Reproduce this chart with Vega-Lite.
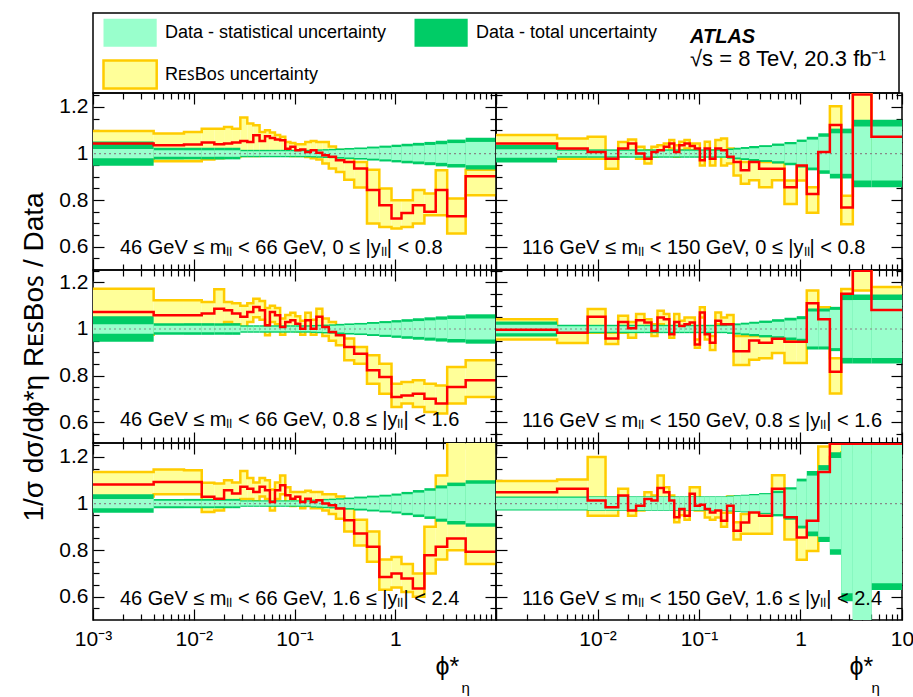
{
"$schema": "https://vega.github.io/schema/vega-lite/v6.json",
"background": "white",
"padding": {"left": 20, "top": 12, "right": 0, "bottom": 0},
"config": {
  "view": {"stroke": "black", "strokeWidth": 1.5},
  "axis": {"domain": false, "grid": false, "ticks": true, "tickColor": "black", "tickWidth": 1.2, "labelFont": "Liberation Sans", "labelFontSize": 21, "labelColor": "black", "titleFont": "Liberation Sans", "titleColor": "black", "titleFontWeight": "normal", "labelOverlap": false, "labelFlush": false, "zindex": 1}
},
"datasets": {
"labels": [
 {"p": "p1", "t": "46 GeV ≤ mₗₗ < 66 GeV, 0 ≤ |yₗₗ| < 0.8"},
 {"p": "p2", "t": "116 GeV ≤ mₗₗ < 150 GeV, 0 ≤ |yₗₗ| < 0.8"},
 {"p": "p3", "t": "46 GeV ≤ mₗₗ < 66 GeV, 0.8 ≤ |yₗₗ| < 1.6"},
 {"p": "p4", "t": "116 GeV ≤ mₗₗ < 150 GeV, 0.8 ≤ |yₗₗ| < 1.6"},
 {"p": "p5", "t": "46 GeV ≤ mₗₗ < 66 GeV, 1.6 ≤ |yₗₗ| < 2.4"},
 {"p": "p6", "t": "116 GeV ≤ mₗₗ < 150 GeV, 1.6 ≤ |yₗₗ| < 2.4"}
],
"p1": [
{"i":1,"lo":0.001,"hi":0.004,"r":1.043,"rl":0.99,"rh":1.097,"sl":0.98,"sh":1.02,"tl":0.948,"th":1.052},
{"i":2,"lo":0.004,"hi":0.008,"r":1.036,"rl":0.967,"rh":1.086,"sl":0.986,"sh":1.014,"tl":0.975,"th":1.025},
{"i":3,"lo":0.008,"hi":0.012,"r":1.039,"rl":0.967,"rh":1.093,"sl":0.986,"sh":1.014,"tl":0.975,"th":1.025},
{"i":4,"lo":0.012,"hi":0.016,"r":1.047,"rl":0.975,"rh":1.107,"sl":0.986,"sh":1.014,"tl":0.975,"th":1.025},
{"i":5,"lo":0.016,"hi":0.02,"r":1.04,"rl":0.98,"rh":1.107,"sl":0.986,"sh":1.014,"tl":0.975,"th":1.025},
{"i":6,"lo":0.02,"hi":0.024,"r":1.043,"rl":0.985,"rh":1.114,"sl":0.986,"sh":1.014,"tl":0.975,"th":1.025},
{"i":7,"lo":0.024,"hi":0.029,"r":1.047,"rl":0.985,"rh":1.107,"sl":0.986,"sh":1.014,"tl":0.975,"th":1.025},
{"i":8,"lo":0.029,"hi":0.034,"r":1.054,"rl":0.99,"rh":1.155,"sl":0.99,"sh":1.01,"tl":0.984,"th":1.016},
{"i":9,"lo":0.034,"hi":0.039,"r":1.05,"rl":0.99,"rh":1.129,"sl":0.99,"sh":1.01,"tl":0.984,"th":1.016},
{"i":10,"lo":0.039,"hi":0.045,"r":1.079,"rl":0.99,"rh":1.122,"sl":0.99,"sh":1.01,"tl":0.984,"th":1.016},
{"i":11,"lo":0.045,"hi":0.051,"r":1.054,"rl":0.995,"rh":1.093,"sl":0.99,"sh":1.01,"tl":0.984,"th":1.016},
{"i":12,"lo":0.051,"hi":0.057,"r":1.074,"rl":0.995,"rh":1.1,"sl":0.99,"sh":1.01,"tl":0.984,"th":1.016},
{"i":13,"lo":0.057,"hi":0.064,"r":1.067,"rl":0.995,"rh":1.09,"sl":0.99,"sh":1.01,"tl":0.984,"th":1.016},
{"i":14,"lo":0.064,"hi":0.072,"r":1.06,"rl":0.995,"rh":1.08,"sl":0.99,"sh":1.01,"tl":0.984,"th":1.016},
{"i":15,"lo":0.072,"hi":0.081,"r":1.057,"rl":0.995,"rh":1.072,"sl":0.99,"sh":1.01,"tl":0.984,"th":1.016},
{"i":16,"lo":0.081,"hi":0.091,"r":1.021,"rl":0.995,"rh":1.05,"sl":0.99,"sh":1.01,"tl":0.984,"th":1.016},
{"i":17,"lo":0.091,"hi":0.102,"r":1.029,"rl":0.99,"rh":1.045,"sl":0.99,"sh":1.01,"tl":0.984,"th":1.016},
{"i":18,"lo":0.102,"hi":0.114,"r":1.014,"rl":0.99,"rh":1.04,"sl":0.99,"sh":1.01,"tl":0.984,"th":1.016},
{"i":19,"lo":0.114,"hi":0.128,"r":1.017,"rl":0.99,"rh":1.04,"sl":0.99,"sh":1.01,"tl":0.984,"th":1.016},
{"i":20,"lo":0.128,"hi":0.145,"r":1.007,"rl":0.985,"rh":1.05,"sl":0.99,"sh":1.01,"tl":0.984,"th":1.016},
{"i":21,"lo":0.145,"hi":0.165,"r":1.014,"rl":0.98,"rh":1.054,"sl":0.989,"sh":1.011,"tl":0.983,"th":1.017},
{"i":22,"lo":0.165,"hi":0.189,"r":1.003,"rl":0.975,"rh":1.05,"sl":0.988,"sh":1.012,"tl":0.982,"th":1.018},
{"i":23,"lo":0.189,"hi":0.219,"r":0.993,"rl":0.957,"rh":1.05,"sl":0.987,"sh":1.013,"tl":0.981,"th":1.019},
{"i":24,"lo":0.219,"hi":0.258,"r":0.986,"rl":0.936,"rh":1.03,"sl":0.986,"sh":1.014,"tl":0.98,"th":1.02},
{"i":25,"lo":0.258,"hi":0.312,"r":0.971,"rl":0.921,"rh":1.015,"sl":0.985,"sh":1.015,"tl":0.978,"th":1.022},
{"i":26,"lo":0.312,"hi":0.391,"r":0.964,"rl":0.888,"rh":1.007,"sl":0.983,"sh":1.017,"tl":0.976,"th":1.024},
{"i":27,"lo":0.391,"hi":0.524,"r":0.936,"rl":0.854,"rh":0.964,"sl":0.981,"sh":1.019,"tl":0.974,"th":1.026},
{"i":28,"lo":0.524,"hi":0.695,"r":0.843,"rl":0.7,"rh":0.93,"sl":0.978,"sh":1.022,"tl":0.97,"th":1.03},
{"i":29,"lo":0.695,"hi":0.918,"r":0.778,"rl":0.685,"rh":0.85,"sl":0.975,"sh":1.025,"tl":0.966,"th":1.034},
{"i":30,"lo":0.918,"hi":1.153,"r":0.721,"rl":0.678,"rh":0.8,"sl":0.972,"sh":1.028,"tl":0.962,"th":1.038},
{"i":31,"lo":1.153,"hi":1.496,"r":0.745,"rl":0.685,"rh":0.8,"sl":0.969,"sh":1.031,"tl":0.958,"th":1.042},
{"i":32,"lo":1.496,"hi":1.947,"r":0.778,"rl":0.7,"rh":0.843,"sl":0.966,"sh":1.034,"tl":0.954,"th":1.046},
{"i":33,"lo":1.947,"hi":2.522,"r":0.75,"rl":0.735,"rh":0.828,"sl":0.963,"sh":1.037,"tl":0.95,"th":1.05},
{"i":34,"lo":2.522,"hi":3.277,"r":0.843,"rl":0.735,"rh":0.928,"sl":0.96,"sh":1.04,"tl":0.945,"th":1.055},
{"i":35,"lo":3.277,"hi":5,"r":0.731,"rl":0.657,"rh":0.807,"sl":0.955,"sh":1.045,"tl":0.94,"th":1.06},
{"i":36,"lo":5,"hi":10,"r":0.903,"rl":0.821,"rh":0.93,"sl":0.95,"sh":1.05,"tl":0.932,"th":1.068}
],
"p2": [
{"i":1,"lo":0.001,"hi":0.004,"r":1.043,"rl":1.0,"rh":1.08,"sl":0.982,"sh":1.018,"tl":0.962,"th":1.038},
{"i":2,"lo":0.004,"hi":0.008,"r":1.022,"rl":0.978,"rh":1.065,"sl":0.988,"sh":1.012,"tl":0.982,"th":1.018},
{"i":3,"lo":0.008,"hi":0.012,"r":1.007,"rl":0.978,"rh":1.072,"sl":0.988,"sh":1.012,"tl":0.982,"th":1.018},
{"i":4,"lo":0.012,"hi":0.016,"r":0.978,"rl":0.935,"rh":1.0,"sl":0.988,"sh":1.012,"tl":0.982,"th":1.018},
{"i":5,"lo":0.016,"hi":0.02,"r":1.022,"rl":0.99,"rh":1.05,"sl":0.988,"sh":1.012,"tl":0.982,"th":1.018},
{"i":6,"lo":0.02,"hi":0.024,"r":1.043,"rl":1.0,"rh":1.06,"sl":0.988,"sh":1.012,"tl":0.982,"th":1.018},
{"i":7,"lo":0.024,"hi":0.029,"r":1.0,"rl":0.978,"rh":1.029,"sl":0.988,"sh":1.012,"tl":0.982,"th":1.018},
{"i":8,"lo":0.029,"hi":0.034,"r":0.978,"rl":0.957,"rh":1.014,"sl":0.988,"sh":1.012,"tl":0.982,"th":1.018},
{"i":9,"lo":0.034,"hi":0.039,"r":1.007,"rl":0.986,"rh":1.029,"sl":0.988,"sh":1.012,"tl":0.982,"th":1.018},
{"i":10,"lo":0.039,"hi":0.045,"r":1.014,"rl":0.993,"rh":1.036,"sl":0.988,"sh":1.012,"tl":0.982,"th":1.018},
{"i":11,"lo":0.045,"hi":0.051,"r":1.029,"rl":1.007,"rh":1.043,"sl":0.988,"sh":1.012,"tl":0.982,"th":1.018},
{"i":12,"lo":0.051,"hi":0.057,"r":1.043,"rl":1.022,"rh":1.058,"sl":0.988,"sh":1.012,"tl":0.982,"th":1.018},
{"i":13,"lo":0.057,"hi":0.064,"r":1.007,"rl":0.986,"rh":1.036,"sl":0.988,"sh":1.012,"tl":0.982,"th":1.018},
{"i":14,"lo":0.064,"hi":0.072,"r":1.036,"rl":1.014,"rh":1.051,"sl":0.988,"sh":1.012,"tl":0.982,"th":1.018},
{"i":15,"lo":0.072,"hi":0.081,"r":1.043,"rl":1.022,"rh":1.058,"sl":0.988,"sh":1.012,"tl":0.982,"th":1.018},
{"i":16,"lo":0.081,"hi":0.091,"r":1.032,"rl":1.014,"rh":1.043,"sl":0.988,"sh":1.012,"tl":0.982,"th":1.018},
{"i":17,"lo":0.091,"hi":0.102,"r":1.022,"rl":1.007,"rh":1.043,"sl":0.988,"sh":1.012,"tl":0.982,"th":1.018},
{"i":18,"lo":0.102,"hi":0.114,"r":0.971,"rl":0.949,"rh":1.0,"sl":0.988,"sh":1.012,"tl":0.982,"th":1.018},
{"i":19,"lo":0.114,"hi":0.128,"r":1.022,"rl":0.993,"rh":1.051,"sl":0.988,"sh":1.012,"tl":0.982,"th":1.018},
{"i":20,"lo":0.128,"hi":0.145,"r":0.978,"rl":0.949,"rh":1.014,"sl":0.988,"sh":1.012,"tl":0.982,"th":1.018},
{"i":21,"lo":0.145,"hi":0.165,"r":1.022,"rl":0.993,"rh":1.058,"sl":0.988,"sh":1.012,"tl":0.982,"th":1.018},
{"i":22,"lo":0.165,"hi":0.189,"r":1.014,"rl":0.949,"rh":1.065,"sl":0.988,"sh":1.012,"tl":0.982,"th":1.018},
{"i":23,"lo":0.189,"hi":0.219,"r":0.986,"rl":0.957,"rh":1.022,"sl":0.985,"sh":1.015,"tl":0.978,"th":1.022},
{"i":24,"lo":0.219,"hi":0.258,"r":0.964,"rl":0.906,"rh":0.986,"sl":0.983,"sh":1.017,"tl":0.975,"th":1.025},
{"i":25,"lo":0.258,"hi":0.312,"r":0.928,"rl":0.87,"rh":0.964,"sl":0.98,"sh":1.02,"tl":0.972,"th":1.028},
{"i":26,"lo":0.312,"hi":0.391,"r":0.964,"rl":0.885,"rh":0.971,"sl":0.977,"sh":1.023,"tl":0.968,"th":1.032},
{"i":27,"lo":0.391,"hi":0.524,"r":0.935,"rl":0.855,"rh":0.964,"sl":0.972,"sh":1.028,"tl":0.964,"th":1.036},
{"i":28,"lo":0.524,"hi":0.695,"r":0.935,"rl":0.885,"rh":0.964,"sl":0.967,"sh":1.033,"tl":0.957,"th":1.043},
{"i":29,"lo":0.695,"hi":0.918,"r":0.855,"rl":0.783,"rh":0.884,"sl":0.96,"sh":1.04,"tl":0.95,"th":1.05},
{"i":30,"lo":0.918,"hi":1.153,"r":0.949,"rl":0.884,"rh":0.971,"sl":0.95,"sh":1.05,"tl":0.94,"th":1.06},
{"i":31,"lo":1.153,"hi":1.496,"r":0.826,"rl":0.746,"rh":0.855,"sl":0.94,"sh":1.06,"tl":0.928,"th":1.072},
{"i":32,"lo":1.496,"hi":1.947,"r":1.007,"rl":0.978,"rh":1.022,"sl":0.928,"sh":1.072,"tl":0.913,"th":1.087},
{"i":33,"lo":1.947,"hi":2.522,"r":1.123,"rl":1.007,"rh":1.203,"sl":0.913,"sh":1.087,"tl":0.893,"th":1.107},
{"i":34,"lo":2.522,"hi":3.277,"r":0.768,"rl":0.696,"rh":0.819,"sl":0.913,"sh":1.087,"tl":0.893,"th":1.107},
{"i":35,"lo":3.277,"hi":5,"r":1.254,"rl":1.12,"rh":1.4,"sl":0.884,"sh":1.116,"tl":0.855,"th":1.145},
{"i":36,"lo":5,"hi":10,"r":1.072,"rl":1.01,"rh":1.13,"sl":0.884,"sh":1.116,"tl":0.855,"th":1.145}
],
"p3": [
{"i":1,"lo":0.001,"hi":0.004,"r":1.073,"rl":0.975,"rh":1.173,"sl":0.98,"sh":1.02,"tl":0.945,"th":1.055},
{"i":2,"lo":0.004,"hi":0.008,"r":1.059,"rl":0.995,"rh":1.123,"sl":0.986,"sh":1.014,"tl":0.975,"th":1.025},
{"i":3,"lo":0.008,"hi":0.012,"r":1.059,"rl":0.995,"rh":1.123,"sl":0.986,"sh":1.014,"tl":0.975,"th":1.025},
{"i":4,"lo":0.012,"hi":0.016,"r":1.066,"rl":1.0,"rh":1.116,"sl":0.986,"sh":1.014,"tl":0.975,"th":1.025},
{"i":5,"lo":0.016,"hi":0.02,"r":1.087,"rl":1.0,"rh":1.17,"sl":0.986,"sh":1.014,"tl":0.975,"th":1.025},
{"i":6,"lo":0.02,"hi":0.024,"r":1.08,"rl":1.03,"rh":1.116,"sl":0.986,"sh":1.014,"tl":0.975,"th":1.025},
{"i":7,"lo":0.024,"hi":0.029,"r":1.066,"rl":1.02,"rh":1.11,"sl":0.986,"sh":1.014,"tl":0.975,"th":1.025},
{"i":8,"lo":0.029,"hi":0.034,"r":1.052,"rl":1.0,"rh":1.1,"sl":0.99,"sh":1.01,"tl":0.984,"th":1.016},
{"i":9,"lo":0.034,"hi":0.039,"r":1.073,"rl":1.03,"rh":1.11,"sl":0.99,"sh":1.01,"tl":0.984,"th":1.016},
{"i":10,"lo":0.039,"hi":0.045,"r":1.094,"rl":1.05,"rh":1.13,"sl":0.99,"sh":1.01,"tl":0.984,"th":1.016},
{"i":11,"lo":0.045,"hi":0.051,"r":1.08,"rl":1.04,"rh":1.12,"sl":0.99,"sh":1.01,"tl":0.984,"th":1.016},
{"i":12,"lo":0.051,"hi":0.057,"r":1.016,"rl":0.973,"rh":1.09,"sl":0.99,"sh":1.01,"tl":0.984,"th":1.016},
{"i":13,"lo":0.057,"hi":0.064,"r":1.073,"rl":1.03,"rh":1.1,"sl":0.99,"sh":1.01,"tl":0.984,"th":1.016},
{"i":14,"lo":0.064,"hi":0.072,"r":1.059,"rl":1.02,"rh":1.09,"sl":0.99,"sh":1.01,"tl":0.984,"th":1.016},
{"i":15,"lo":0.072,"hi":0.081,"r":1.009,"rl":0.975,"rh":1.045,"sl":0.99,"sh":1.01,"tl":0.984,"th":1.016},
{"i":16,"lo":0.081,"hi":0.091,"r":1.03,"rl":0.995,"rh":1.06,"sl":0.99,"sh":1.01,"tl":0.984,"th":1.016},
{"i":17,"lo":0.091,"hi":0.102,"r":1.037,"rl":1.0,"rh":1.07,"sl":0.99,"sh":1.01,"tl":0.984,"th":1.016},
{"i":18,"lo":0.102,"hi":0.114,"r":1.023,"rl":0.99,"rh":1.055,"sl":0.99,"sh":1.01,"tl":0.984,"th":1.016},
{"i":19,"lo":0.114,"hi":0.128,"r":1.001,"rl":0.975,"rh":1.035,"sl":0.99,"sh":1.01,"tl":0.984,"th":1.016},
{"i":20,"lo":0.128,"hi":0.145,"r":1.037,"rl":1.0,"rh":1.07,"sl":0.99,"sh":1.01,"tl":0.984,"th":1.016},
{"i":21,"lo":0.145,"hi":0.165,"r":1.001,"rl":0.975,"rh":1.04,"sl":0.989,"sh":1.011,"tl":0.983,"th":1.017},
{"i":22,"lo":0.165,"hi":0.189,"r":1.052,"rl":1.01,"rh":1.087,"sl":0.988,"sh":1.012,"tl":0.982,"th":1.018},
{"i":23,"lo":0.189,"hi":0.219,"r":1.009,"rl":0.97,"rh":1.045,"sl":0.987,"sh":1.013,"tl":0.981,"th":1.019},
{"i":24,"lo":0.219,"hi":0.258,"r":0.987,"rl":0.95,"rh":1.03,"sl":0.986,"sh":1.014,"tl":0.98,"th":1.02},
{"i":25,"lo":0.258,"hi":0.312,"r":0.973,"rl":0.93,"rh":1.01,"sl":0.985,"sh":1.015,"tl":0.978,"th":1.022},
{"i":26,"lo":0.312,"hi":0.391,"r":0.923,"rl":0.866,"rh":0.959,"sl":0.983,"sh":1.017,"tl":0.976,"th":1.024},
{"i":27,"lo":0.391,"hi":0.524,"r":0.894,"rl":0.851,"rh":0.923,"sl":0.981,"sh":1.019,"tl":0.974,"th":1.026},
{"i":28,"lo":0.524,"hi":0.695,"r":0.823,"rl":0.765,"rh":0.887,"sl":0.978,"sh":1.022,"tl":0.97,"th":1.03},
{"i":29,"lo":0.695,"hi":0.918,"r":0.794,"rl":0.722,"rh":0.851,"sl":0.975,"sh":1.025,"tl":0.966,"th":1.034},
{"i":30,"lo":0.918,"hi":1.153,"r":0.708,"rl":0.665,"rh":0.765,"sl":0.972,"sh":1.028,"tl":0.962,"th":1.038},
{"i":31,"lo":1.153,"hi":1.496,"r":0.715,"rl":0.68,"rh":0.773,"sl":0.969,"sh":1.031,"tl":0.958,"th":1.042},
{"i":32,"lo":1.496,"hi":1.947,"r":0.722,"rl":0.665,"rh":0.78,"sl":0.966,"sh":1.034,"tl":0.954,"th":1.046},
{"i":33,"lo":1.947,"hi":2.522,"r":0.701,"rl":0.644,"rh":0.765,"sl":0.963,"sh":1.037,"tl":0.95,"th":1.05},
{"i":34,"lo":2.522,"hi":3.277,"r":0.68,"rl":0.637,"rh":0.758,"sl":0.96,"sh":1.04,"tl":0.946,"th":1.054},
{"i":35,"lo":3.277,"hi":5,"r":0.751,"rl":0.68,"rh":0.837,"sl":0.957,"sh":1.043,"tl":0.942,"th":1.058},
{"i":36,"lo":5,"hi":10,"r":0.78,"rl":0.708,"rh":0.866,"sl":0.955,"sh":1.045,"tl":0.937,"th":1.063}
],
"p4": [
{"i":1,"lo":0.001,"hi":0.004,"r":0.997,"rl":0.955,"rh":1.042,"sl":0.982,"sh":1.018,"tl":0.968,"th":1.032},
{"i":2,"lo":0.004,"hi":0.008,"r":0.984,"rl":0.94,"rh":0.995,"sl":0.988,"sh":1.012,"tl":0.982,"th":1.018},
{"i":3,"lo":0.008,"hi":0.012,"r":1.052,"rl":0.984,"rh":1.086,"sl":0.988,"sh":1.012,"tl":0.982,"th":1.018},
{"i":4,"lo":0.012,"hi":0.016,"r":0.959,"rl":0.936,"rh":0.984,"sl":0.988,"sh":1.012,"tl":0.982,"th":1.018},
{"i":5,"lo":0.016,"hi":0.02,"r":1.03,"rl":0.984,"rh":1.057,"sl":0.988,"sh":1.012,"tl":0.982,"th":1.018},
{"i":6,"lo":0.02,"hi":0.024,"r":1.003,"rl":0.962,"rh":1.03,"sl":0.988,"sh":1.012,"tl":0.982,"th":1.018},
{"i":7,"lo":0.024,"hi":0.029,"r":1.038,"rl":1.006,"rh":1.064,"sl":0.988,"sh":1.012,"tl":0.982,"th":1.018},
{"i":8,"lo":0.029,"hi":0.034,"r":1.028,"rl":1.013,"rh":1.042,"sl":0.988,"sh":1.012,"tl":0.982,"th":1.018},
{"i":9,"lo":0.034,"hi":0.039,"r":0.991,"rl":0.97,"rh":1.02,"sl":0.988,"sh":1.012,"tl":0.982,"th":1.018},
{"i":10,"lo":0.039,"hi":0.045,"r":1.049,"rl":1.02,"rh":1.078,"sl":0.988,"sh":1.012,"tl":0.982,"th":1.018},
{"i":11,"lo":0.045,"hi":0.051,"r":1.042,"rl":1.006,"rh":1.064,"sl":0.988,"sh":1.012,"tl":0.982,"th":1.018},
{"i":12,"lo":0.051,"hi":0.057,"r":0.977,"rl":0.962,"rh":0.999,"sl":0.988,"sh":1.012,"tl":0.982,"th":1.018},
{"i":13,"lo":0.057,"hi":0.064,"r":1.03,"rl":0.999,"rh":1.064,"sl":0.988,"sh":1.012,"tl":0.982,"th":1.018},
{"i":14,"lo":0.064,"hi":0.072,"r":1.013,"rl":0.999,"rh":1.035,"sl":0.988,"sh":1.012,"tl":0.982,"th":1.018},
{"i":15,"lo":0.072,"hi":0.081,"r":1.02,"rl":0.999,"rh":1.049,"sl":0.988,"sh":1.012,"tl":0.982,"th":1.018},
{"i":16,"lo":0.081,"hi":0.091,"r":1.028,"rl":1.006,"rh":1.049,"sl":0.988,"sh":1.012,"tl":0.982,"th":1.018},
{"i":17,"lo":0.091,"hi":0.102,"r":0.933,"rl":0.92,"rh":0.955,"sl":0.988,"sh":1.012,"tl":0.982,"th":1.018},
{"i":18,"lo":0.102,"hi":0.114,"r":1.071,"rl":1.049,"rh":1.093,"sl":0.988,"sh":1.012,"tl":0.982,"th":1.018},
{"i":19,"lo":0.114,"hi":0.128,"r":0.977,"rl":0.955,"rh":0.999,"sl":0.988,"sh":1.012,"tl":0.982,"th":1.018},
{"i":20,"lo":0.128,"hi":0.145,"r":0.941,"rl":0.91,"rh":0.97,"sl":0.988,"sh":1.012,"tl":0.982,"th":1.018},
{"i":21,"lo":0.145,"hi":0.165,"r":1.035,"rl":1.02,"rh":1.071,"sl":0.988,"sh":1.012,"tl":0.982,"th":1.018},
{"i":22,"lo":0.165,"hi":0.189,"r":1.02,"rl":1.006,"rh":1.049,"sl":0.988,"sh":1.012,"tl":0.982,"th":1.018},
{"i":23,"lo":0.189,"hi":0.219,"r":1.02,"rl":0.99,"rh":1.06,"sl":0.986,"sh":1.014,"tl":0.979,"th":1.021},
{"i":24,"lo":0.219,"hi":0.258,"r":0.904,"rl":0.846,"rh":0.97,"sl":0.984,"sh":1.016,"tl":0.976,"th":1.024},
{"i":25,"lo":0.258,"hi":0.312,"r":0.904,"rl":0.846,"rh":0.97,"sl":0.981,"sh":1.019,"tl":0.973,"th":1.027},
{"i":26,"lo":0.312,"hi":0.391,"r":0.951,"rl":0.868,"rh":0.97,"sl":0.978,"sh":1.022,"tl":0.969,"th":1.031},
{"i":27,"lo":0.391,"hi":0.524,"r":0.941,"rl":0.875,"rh":0.97,"sl":0.974,"sh":1.026,"tl":0.964,"th":1.036},
{"i":28,"lo":0.524,"hi":0.695,"r":0.958,"rl":0.897,"rh":0.962,"sl":0.969,"sh":1.031,"tl":0.958,"th":1.042},
{"i":29,"lo":0.695,"hi":0.918,"r":0.945,"rl":0.854,"rh":0.948,"sl":0.964,"sh":1.036,"tl":0.952,"th":1.048},
{"i":30,"lo":0.918,"hi":1.153,"r":0.945,"rl":0.854,"rh":0.948,"sl":0.958,"sh":1.042,"tl":0.945,"th":1.055},
{"i":31,"lo":1.153,"hi":1.496,"r":1.11,"rl":1.078,"rh":1.165,"sl":0.925,"sh":1.075,"tl":0.912,"th":1.088},
{"i":32,"lo":1.496,"hi":1.947,"r":1.042,"rl":0.998,"rh":1.093,"sl":0.925,"sh":1.075,"tl":0.912,"th":1.088},
{"i":33,"lo":1.947,"hi":2.522,"r":0.817,"rl":0.723,"rh":0.875,"sl":0.918,"sh":1.082,"tl":0.905,"th":1.095},
{"i":34,"lo":2.522,"hi":3.277,"r":1.151,"rl":1.13,"rh":1.172,"sl":0.876,"sh":1.124,"tl":0.852,"th":1.148},
{"i":35,"lo":3.277,"hi":5,"r":1.25,"rl":1.165,"rh":1.4,"sl":0.876,"sh":1.124,"tl":0.852,"th":1.148},
{"i":36,"lo":5,"hi":10,"r":1.081,"rl":1.0,"rh":1.18,"sl":0.876,"sh":1.124,"tl":0.852,"th":1.148}
],
"p5": [
{"i":1,"lo":0.001,"hi":0.004,"r":1.082,"rl":1.03,"rh":1.136,"sl":0.98,"sh":1.02,"tl":0.96,"th":1.04},
{"i":2,"lo":0.004,"hi":0.008,"r":1.093,"rl":1.04,"rh":1.146,"sl":0.988,"sh":1.012,"tl":0.98,"th":1.02},
{"i":3,"lo":0.008,"hi":0.012,"r":1.093,"rl":1.04,"rh":1.143,"sl":0.988,"sh":1.012,"tl":0.98,"th":1.02},
{"i":4,"lo":0.012,"hi":0.016,"r":1.029,"rl":0.964,"rh":1.089,"sl":0.988,"sh":1.012,"tl":0.98,"th":1.02},
{"i":5,"lo":0.016,"hi":0.02,"r":1.021,"rl":0.97,"rh":1.086,"sl":0.988,"sh":1.012,"tl":0.98,"th":1.02},
{"i":6,"lo":0.02,"hi":0.024,"r":1.057,"rl":1.01,"rh":1.1,"sl":0.988,"sh":1.012,"tl":0.98,"th":1.02},
{"i":7,"lo":0.024,"hi":0.029,"r":1.043,"rl":1.0,"rh":1.09,"sl":0.988,"sh":1.012,"tl":0.98,"th":1.02},
{"i":8,"lo":0.029,"hi":0.034,"r":1.072,"rl":1.02,"rh":1.14,"sl":0.991,"sh":1.009,"tl":0.986,"th":1.014},
{"i":9,"lo":0.034,"hi":0.039,"r":1.064,"rl":1.02,"rh":1.11,"sl":0.991,"sh":1.009,"tl":0.986,"th":1.014},
{"i":10,"lo":0.039,"hi":0.045,"r":1.05,"rl":1.01,"rh":1.09,"sl":0.991,"sh":1.009,"tl":0.986,"th":1.014},
{"i":11,"lo":0.045,"hi":0.051,"r":1.072,"rl":1.03,"rh":1.11,"sl":0.991,"sh":1.009,"tl":0.986,"th":1.014},
{"i":12,"lo":0.051,"hi":0.057,"r":1.057,"rl":1.02,"rh":1.1,"sl":0.991,"sh":1.009,"tl":0.986,"th":1.014},
{"i":13,"lo":0.057,"hi":0.064,"r":1.007,"rl":0.97,"rh":1.06,"sl":0.991,"sh":1.009,"tl":0.986,"th":1.014},
{"i":14,"lo":0.064,"hi":0.072,"r":1.057,"rl":1.02,"rh":1.09,"sl":0.991,"sh":1.009,"tl":0.986,"th":1.014},
{"i":15,"lo":0.072,"hi":0.081,"r":1.079,"rl":1.04,"rh":1.12,"sl":0.991,"sh":1.009,"tl":0.986,"th":1.014},
{"i":16,"lo":0.081,"hi":0.091,"r":1.036,"rl":1.0,"rh":1.07,"sl":0.991,"sh":1.009,"tl":0.986,"th":1.014},
{"i":17,"lo":0.091,"hi":0.102,"r":1.021,"rl":0.99,"rh":1.05,"sl":0.991,"sh":1.009,"tl":0.986,"th":1.014},
{"i":18,"lo":0.102,"hi":0.114,"r":1.029,"rl":1.0,"rh":1.05,"sl":0.991,"sh":1.009,"tl":0.986,"th":1.014},
{"i":19,"lo":0.114,"hi":0.128,"r":1.007,"rl":0.98,"rh":1.05,"sl":0.991,"sh":1.009,"tl":0.986,"th":1.014},
{"i":20,"lo":0.128,"hi":0.145,"r":1.021,"rl":0.99,"rh":1.055,"sl":0.991,"sh":1.009,"tl":0.986,"th":1.014},
{"i":21,"lo":0.145,"hi":0.165,"r":1.007,"rl":0.98,"rh":1.05,"sl":0.988,"sh":1.012,"tl":0.983,"th":1.017},
{"i":22,"lo":0.165,"hi":0.189,"r":1.014,"rl":0.98,"rh":1.05,"sl":0.987,"sh":1.013,"tl":0.982,"th":1.018},
{"i":23,"lo":0.189,"hi":0.219,"r":1.0,"rl":0.97,"rh":1.04,"sl":0.986,"sh":1.014,"tl":0.98,"th":1.02},
{"i":24,"lo":0.219,"hi":0.258,"r":0.993,"rl":0.955,"rh":1.04,"sl":0.985,"sh":1.015,"tl":0.979,"th":1.021},
{"i":25,"lo":0.258,"hi":0.312,"r":0.979,"rl":0.935,"rh":1.03,"sl":0.983,"sh":1.017,"tl":0.977,"th":1.023},
{"i":26,"lo":0.312,"hi":0.391,"r":0.928,"rl":0.88,"rh":0.98,"sl":0.981,"sh":1.019,"tl":0.974,"th":1.026},
{"i":27,"lo":0.391,"hi":0.524,"r":0.871,"rl":0.82,"rh":0.93,"sl":0.978,"sh":1.022,"tl":0.97,"th":1.03},
{"i":28,"lo":0.524,"hi":0.695,"r":0.814,"rl":0.75,"rh":0.88,"sl":0.974,"sh":1.026,"tl":0.966,"th":1.034},
{"i":29,"lo":0.695,"hi":0.918,"r":0.685,"rl":0.63,"rh":0.76,"sl":0.97,"sh":1.03,"tl":0.962,"th":1.038},
{"i":30,"lo":0.918,"hi":1.153,"r":0.7,"rl":0.64,"rh":0.77,"sl":0.966,"sh":1.034,"tl":0.957,"th":1.043},
{"i":31,"lo":1.153,"hi":1.496,"r":0.678,"rl":0.62,"rh":0.74,"sl":0.96,"sh":1.04,"tl":0.95,"th":1.05},
{"i":32,"lo":1.496,"hi":1.947,"r":0.635,"rl":0.6,"rh":0.7,"sl":0.953,"sh":1.047,"tl":0.942,"th":1.058},
{"i":33,"lo":1.947,"hi":2.522,"r":0.778,"rl":0.7,"rh":0.9,"sl":0.945,"sh":1.055,"tl":0.934,"th":1.066},
{"i":34,"lo":2.522,"hi":3.277,"r":0.814,"rl":0.76,"rh":1.12,"sl":0.935,"sh":1.065,"tl":0.922,"th":1.078},
{"i":35,"lo":3.277,"hi":5,"r":0.85,"rl":0.8,"rh":1.3,"sl":0.925,"sh":1.075,"tl":0.91,"th":1.09},
{"i":36,"lo":5,"hi":10,"r":0.793,"rl":0.74,"rh":1.3,"sl":0.915,"sh":1.085,"tl":0.9,"th":1.1}
],
"p6": [
{"i":1,"lo":0.001,"hi":0.004,"r":1.049,"rl":1.0,"rh":1.097,"sl":0.975,"sh":1.025,"tl":0.97,"th":1.03},
{"i":2,"lo":0.004,"hi":0.008,"r":1.064,"rl":1.01,"rh":1.103,"sl":0.975,"sh":1.025,"tl":0.97,"th":1.03},
{"i":3,"lo":0.008,"hi":0.012,"r":1.013,"rl":0.948,"rh":1.2,"sl":0.972,"sh":1.028,"tl":0.969,"th":1.031},
{"i":4,"lo":0.012,"hi":0.016,"r":0.984,"rl":0.948,"rh":1.006,"sl":0.972,"sh":1.028,"tl":0.969,"th":1.031},
{"i":5,"lo":0.016,"hi":0.02,"r":1.035,"rl":0.99,"rh":1.064,"sl":0.972,"sh":1.028,"tl":0.969,"th":1.031},
{"i":6,"lo":0.02,"hi":0.024,"r":0.97,"rl":0.948,"rh":1.013,"sl":0.972,"sh":1.028,"tl":0.969,"th":1.031},
{"i":7,"lo":0.024,"hi":0.029,"r":0.991,"rl":0.97,"rh":1.006,"sl":0.972,"sh":1.028,"tl":0.969,"th":1.031},
{"i":8,"lo":0.029,"hi":0.034,"r":1.02,"rl":0.99,"rh":1.049,"sl":0.972,"sh":1.028,"tl":0.969,"th":1.031},
{"i":9,"lo":0.034,"hi":0.039,"r":1.013,"rl":0.99,"rh":1.035,"sl":0.972,"sh":1.028,"tl":0.969,"th":1.031},
{"i":10,"lo":0.039,"hi":0.045,"r":1.067,"rl":1.0,"rh":1.12,"sl":0.972,"sh":1.028,"tl":0.969,"th":1.031},
{"i":11,"lo":0.045,"hi":0.051,"r":1.049,"rl":1.02,"rh":1.07,"sl":0.972,"sh":1.028,"tl":0.969,"th":1.031},
{"i":12,"lo":0.051,"hi":0.057,"r":1.013,"rl":0.99,"rh":1.035,"sl":0.972,"sh":1.028,"tl":0.969,"th":1.031},
{"i":13,"lo":0.057,"hi":0.064,"r":0.941,"rl":0.92,"rh":0.99,"sl":0.972,"sh":1.028,"tl":0.969,"th":1.031},
{"i":14,"lo":0.064,"hi":0.072,"r":0.977,"rl":0.95,"rh":1.0,"sl":0.972,"sh":1.028,"tl":0.969,"th":1.031},
{"i":15,"lo":0.072,"hi":0.081,"r":0.948,"rl":0.93,"rh":0.99,"sl":0.972,"sh":1.028,"tl":0.969,"th":1.031},
{"i":16,"lo":0.081,"hi":0.091,"r":1.042,"rl":1.01,"rh":1.07,"sl":0.972,"sh":1.028,"tl":0.969,"th":1.031},
{"i":17,"lo":0.091,"hi":0.102,"r":0.991,"rl":0.97,"rh":1.07,"sl":0.972,"sh":1.028,"tl":0.969,"th":1.031},
{"i":18,"lo":0.102,"hi":0.114,"r":0.995,"rl":0.97,"rh":1.02,"sl":0.972,"sh":1.028,"tl":0.969,"th":1.031},
{"i":19,"lo":0.114,"hi":0.128,"r":0.977,"rl":0.94,"rh":0.999,"sl":0.972,"sh":1.028,"tl":0.969,"th":1.031},
{"i":20,"lo":0.128,"hi":0.145,"r":0.962,"rl":0.93,"rh":0.99,"sl":0.972,"sh":1.028,"tl":0.969,"th":1.031},
{"i":21,"lo":0.145,"hi":0.165,"r":0.97,"rl":0.94,"rh":0.995,"sl":0.972,"sh":1.028,"tl":0.969,"th":1.031},
{"i":22,"lo":0.165,"hi":0.189,"r":0.926,"rl":0.9,"rh":0.96,"sl":0.972,"sh":1.028,"tl":0.969,"th":1.031},
{"i":23,"lo":0.189,"hi":0.219,"r":0.991,"rl":0.96,"rh":1.03,"sl":0.97,"sh":1.03,"tl":0.966,"th":1.034},
{"i":24,"lo":0.219,"hi":0.258,"r":0.883,"rl":0.846,"rh":0.92,"sl":0.968,"sh":1.032,"tl":0.964,"th":1.036},
{"i":25,"lo":0.258,"hi":0.312,"r":0.919,"rl":0.87,"rh":0.955,"sl":0.966,"sh":1.034,"tl":0.962,"th":1.038},
{"i":26,"lo":0.312,"hi":0.391,"r":0.962,"rl":0.87,"rh":1.03,"sl":0.964,"sh":1.036,"tl":0.959,"th":1.041},
{"i":27,"lo":0.391,"hi":0.524,"r":0.948,"rl":0.87,"rh":1.035,"sl":0.96,"sh":1.04,"tl":0.955,"th":1.045},
{"i":28,"lo":0.524,"hi":0.695,"r":1.064,"rl":1.035,"rh":1.122,"sl":0.955,"sh":1.045,"tl":0.945,"th":1.055},
{"i":29,"lo":0.695,"hi":0.918,"r":0.941,"rl":0.846,"rh":1.035,"sl":0.94,"sh":1.06,"tl":0.93,"th":1.07},
{"i":30,"lo":0.918,"hi":1.153,"r":0.854,"rl":0.759,"rh":0.919,"sl":0.905,"sh":1.095,"tl":0.893,"th":1.107},
{"i":31,"lo":1.153,"hi":1.496,"r":0.926,"rl":0.796,"rh":0.955,"sl":0.88,"sh":1.12,"tl":0.86,"th":1.14},
{"i":32,"lo":1.496,"hi":1.947,"r":1.136,"rl":1.13,"rh":1.245,"sl":0.857,"sh":1.143,"tl":0.835,"th":1.165},
{"i":33,"lo":1.947,"hi":2.522,"r":1.257,"rl":1.2,"rh":1.4,"sl":0.804,"sh":1.196,"tl":0.78,"th":1.22},
{"i":34,"lo":2.522,"hi":3.277,"r":1.257,"rl":1.22,"rh":1.4,"sl":0.615,"sh":1.385,"tl":0.58,"th":1.42},
{"i":35,"lo":3.277,"hi":5,"r":1.257,"rl":1.22,"rh":1.4,"sl":0.4,"sh":1.6,"tl":0.35,"th":1.65},
{"i":36,"lo":5,"hi":10,"r":1.257,"rl":1.22,"rh":1.4,"sl":0.658,"sh":1.342,"tl":0.629,"th":1.371}
]
},
"vconcat": [
 {
  "width": 806, "height": 80,
  "layer": [
   {"data": {"values": [{"f": 1}]}, "mark": {"type": "rect", "fill": "white", "stroke": "black", "strokeWidth": 1.5}},
   {"data": {"values": []}, "mark": {"type": "rect"},
    "encoding": {
      "fill": {"field": "c", "type": "nominal",
        "scale": {"domain": ["Data - statistical uncertainty", "Data - total uncertainty", "RᴇꜱBᴏꜱ uncertainty"], "range": ["#99ffcc", "#00cc66", "#ffff99"]},
        "legend": {"title": null, "orient": "top-left", "direction": "horizontal", "offset": 4, "padding": 0, "columns": 2, "columnPadding": 21, "rowPadding": 3,
          "symbolType": "M-1.9,-1H1.9V1H-1.9Z", "symbolSize": 784, "symbolOffset": 17.6, "symbolOpacity": 1,
          "labelFont": "Liberation Sans", "labelFontSize": 18, "labelColor": "black", "labelOffset": 19.4, "labelLimit": 400,
          "encode": {"symbols": {"update": {"stroke": {"signal": "datum.value === 'RᴇꜱBᴏꜱ uncertainty' ? '#ffcc00' : 'transparent'"}, "strokeWidth": {"value": 2.5}}}}}
      }
    }}
  ],
  "title": {"text": "ATLAS", "subtitle": "√s = 8 TeV, 20.3 fb⁻¹", "orient": "top", "anchor": "start", "frame": "group", "offset": -58, "dx": 597,
    "font": "Liberation Sans", "fontSize": 20, "fontStyle": "italic", "fontWeight": "bold", "color": "black",
    "subtitleFont": "Liberation Sans", "subtitleFontSize": 22, "subtitleColor": "black", "subtitlePadding": 2}
 },
 {
  "columns": 2, "spacing": 0, "bounds": "flush",
  "concat": [
   {
    "width": 403, "height": 177, "data": {"name": "p1"},
    "resolve": {"axis": {"x": "independent", "y": "independent"}},
    "layer": [
     {"mark": {"type": "rect", "fill": "#ffff99", "clip": true},
      "encoding": {"x": {"field": "lo", "type": "quantitative", "scale": {"type": "log", "domain": [0.001, 10], "nice": false}, "axis": {"orient": "bottom", "values": [0.001, 0.01, 0.1, 1, 10], "tickSize": -11, "labels": false, "title": null}},
        "x2": {"field": "hi"},
        "y": {"field": "rl", "type": "quantitative", "scale": {"domain": [0.5, 1.26], "nice": false, "zero": false}, "axis": {"orient": "left", "values": [0.6, 0.8, 1, 1.2], "tickSize": -11, "labelPadding": 16, "labelExpr": "datum.value == 1 ? '1' : format(datum.value, '.1f')", "title": null}},
        "y2": {"field": "rh"}}},
     {"transform": [{"fold": ["lo", "hi"], "as": ["k", "xv"]}], "mark": {"type": "line", "color": "#ffcc00", "strokeWidth": 2.5, "clip": true},
      "encoding": {"x": {"field": "xv", "type": "quantitative", "axis": {"orient": "bottom", "values": [0.002,0.003,0.004,0.005,0.006,0.007,0.008,0.009,0.02,0.03,0.04,0.05,0.06,0.07,0.08,0.09,0.2,0.3,0.4,0.5,0.6,0.7,0.8,0.9,2,3,4,5,6,7,8,9], "tickSize": -6, "labels": false, "title": null}},
        "y": {"field": "rh", "type": "quantitative", "axis": {"orient": "left", "values": [0.55,0.65,0.7,0.75,0.85,0.9,0.95,1.05,1.1,1.15,1.25], "tickSize": -6, "labels": false, "title": null}},
        "order": [{"field": "i", "type": "quantitative"}, {"field": "k", "type": "nominal", "sort": "descending"}]}},
     {"transform": [{"fold": ["lo", "hi"], "as": ["k", "xv"]}], "mark": {"type": "line", "color": "#ffcc00", "strokeWidth": 2.5, "clip": true},
      "encoding": {"x": {"field": "xv", "type": "quantitative", "axis": {"orient": "top", "values": [0.001, 0.01, 0.1, 1, 10], "tickSize": -11, "labels": false, "title": null}},
        "y": {"field": "rl", "type": "quantitative", "axis": {"orient": "right", "values": [0.6, 0.8, 1, 1.2], "tickSize": -11, "labels": false, "title": null}},
        "order": [{"field": "i", "type": "quantitative"}, {"field": "k", "type": "nominal", "sort": "descending"}]}},
     {"mark": {"type": "rect", "fill": "#00cc66", "clip": true},
      "encoding": {"x": {"field": "lo", "type": "quantitative", "axis": {"orient": "top", "values": [0.002,0.003,0.004,0.005,0.006,0.007,0.008,0.009,0.02,0.03,0.04,0.05,0.06,0.07,0.08,0.09,0.2,0.3,0.4,0.5,0.6,0.7,0.8,0.9,2,3,4,5,6,7,8,9], "tickSize": -6, "labels": false, "title": null}},
        "x2": {"field": "hi"},
        "y": {"field": "tl", "type": "quantitative", "axis": {"orient": "right", "values": [0.55,0.65,0.7,0.75,0.85,0.9,0.95,1.05,1.1,1.15,1.25], "tickSize": -6, "labels": false, "title": null}},
        "y2": {"field": "th"}}},
     {"mark": {"type": "rect", "fill": "#99ffcc", "clip": true},
      "encoding": {"x": {"field": "lo", "type": "quantitative", "axis": null}, "x2": {"field": "hi"}, "y": {"field": "sl", "type": "quantitative", "axis": null}, "y2": {"field": "sh"}}},
     {"data": {"values": [{"v": 1}]}, "mark": {"type": "rule", "color": "#888888", "strokeDash": [2, 3], "strokeWidth": 1.2},
      "encoding": {"y": {"field": "v", "type": "quantitative", "axis": null}}},
     {"transform": [{"fold": ["lo", "hi"], "as": ["k", "xv"]}], "mark": {"type": "line", "color": "#ff0000", "strokeWidth": 2.5, "clip": true},
      "encoding": {"x": {"field": "xv", "type": "quantitative", "axis": null}, "y": {"field": "r", "type": "quantitative", "axis": null},
        "order": [{"field": "i", "type": "quantitative"}, {"field": "k", "type": "nominal", "sort": "descending"}]}},
     {"data": {"name": "labels"}, "transform": [{"filter": "datum.p == 'p1'"}],
      "mark": {"type": "text", "align": "left", "baseline": "alphabetic", "font": "Liberation Sans", "fontSize": 20, "color": "black"},
      "encoding": {"x": {"datum": 0.00185, "type": "quantitative", "axis": null}, "y": {"datum": 0.57, "type": "quantitative", "axis": null}, "text": {"field": "t"}}}
    ]
   },
   {
    "width": 406, "height": 177, "data": {"name": "p2"},
    "resolve": {"axis": {"x": "independent", "y": "independent"}},
    "layer": [
     {"mark": {"type": "rect", "fill": "#ffff99", "clip": true},
      "encoding": {"x": {"field": "lo", "type": "quantitative", "scale": {"type": "log", "domain": [0.001, 10], "nice": false}, "axis": {"orient": "bottom", "values": [0.001, 0.01, 0.1, 1, 10], "tickSize": -11, "labels": false, "title": null}},
        "x2": {"field": "hi"},
        "y": {"field": "rl", "type": "quantitative", "scale": {"domain": [0.5, 1.26], "nice": false, "zero": false}, "axis": {"orient": "left", "values": [0.6, 0.8, 1, 1.2], "tickSize": -11, "labels": false, "title": null}},
        "y2": {"field": "rh"}}},
     {"transform": [{"fold": ["lo", "hi"], "as": ["k", "xv"]}], "mark": {"type": "line", "color": "#ffcc00", "strokeWidth": 2.5, "clip": true},
      "encoding": {"x": {"field": "xv", "type": "quantitative", "axis": {"orient": "bottom", "values": [0.002,0.003,0.004,0.005,0.006,0.007,0.008,0.009,0.02,0.03,0.04,0.05,0.06,0.07,0.08,0.09,0.2,0.3,0.4,0.5,0.6,0.7,0.8,0.9,2,3,4,5,6,7,8,9], "tickSize": -6, "labels": false, "title": null}},
        "y": {"field": "rh", "type": "quantitative", "axis": {"orient": "left", "values": [0.55,0.65,0.7,0.75,0.85,0.9,0.95,1.05,1.1,1.15,1.25], "tickSize": -6, "labels": false, "title": null}},
        "order": [{"field": "i", "type": "quantitative"}, {"field": "k", "type": "nominal", "sort": "descending"}]}},
     {"transform": [{"fold": ["lo", "hi"], "as": ["k", "xv"]}], "mark": {"type": "line", "color": "#ffcc00", "strokeWidth": 2.5, "clip": true},
      "encoding": {"x": {"field": "xv", "type": "quantitative", "axis": {"orient": "top", "values": [0.001, 0.01, 0.1, 1, 10], "tickSize": -11, "labels": false, "title": null}},
        "y": {"field": "rl", "type": "quantitative", "axis": {"orient": "right", "values": [0.6, 0.8, 1, 1.2], "tickSize": -11, "labels": false, "title": null}},
        "order": [{"field": "i", "type": "quantitative"}, {"field": "k", "type": "nominal", "sort": "descending"}]}},
     {"mark": {"type": "rect", "fill": "#00cc66", "clip": true},
      "encoding": {"x": {"field": "lo", "type": "quantitative", "axis": {"orient": "top", "values": [0.002,0.003,0.004,0.005,0.006,0.007,0.008,0.009,0.02,0.03,0.04,0.05,0.06,0.07,0.08,0.09,0.2,0.3,0.4,0.5,0.6,0.7,0.8,0.9,2,3,4,5,6,7,8,9], "tickSize": -6, "labels": false, "title": null}},
        "x2": {"field": "hi"},
        "y": {"field": "tl", "type": "quantitative", "axis": {"orient": "right", "values": [0.55,0.65,0.7,0.75,0.85,0.9,0.95,1.05,1.1,1.15,1.25], "tickSize": -6, "labels": false, "title": null}},
        "y2": {"field": "th"}}},
     {"mark": {"type": "rect", "fill": "#99ffcc", "clip": true},
      "encoding": {"x": {"field": "lo", "type": "quantitative", "axis": null}, "x2": {"field": "hi"}, "y": {"field": "sl", "type": "quantitative", "axis": null}, "y2": {"field": "sh"}}},
     {"data": {"values": [{"v": 1}]}, "mark": {"type": "rule", "color": "#888888", "strokeDash": [2, 3], "strokeWidth": 1.2},
      "encoding": {"y": {"field": "v", "type": "quantitative", "axis": null}}},
     {"transform": [{"fold": ["lo", "hi"], "as": ["k", "xv"]}], "mark": {"type": "line", "color": "#ff0000", "strokeWidth": 2.5, "clip": true},
      "encoding": {"x": {"field": "xv", "type": "quantitative", "axis": null}, "y": {"field": "r", "type": "quantitative", "axis": null},
        "order": [{"field": "i", "type": "quantitative"}, {"field": "k", "type": "nominal", "sort": "descending"}]}},
     {"data": {"name": "labels"}, "transform": [{"filter": "datum.p == 'p2'"}],
      "mark": {"type": "text", "align": "left", "baseline": "alphabetic", "font": "Liberation Sans", "fontSize": 20, "color": "black"},
      "encoding": {"x": {"datum": 0.0018, "type": "quantitative", "axis": null}, "y": {"datum": 0.57, "type": "quantitative", "axis": null}, "text": {"field": "t"}}}
    ]
   },
   {
    "width": 403, "height": 173, "data": {"name": "p3"},
    "resolve": {"axis": {"x": "independent", "y": "independent"}},
    "layer": [
     {"mark": {"type": "rect", "fill": "#ffff99", "clip": true},
      "encoding": {"x": {"field": "lo", "type": "quantitative", "scale": {"type": "log", "domain": [0.001, 10], "nice": false}, "axis": {"orient": "bottom", "values": [0.001, 0.01, 0.1, 1, 10], "tickSize": -11, "labels": false, "title": null}},
        "x2": {"field": "hi"},
        "y": {"field": "rl", "type": "quantitative", "scale": {"domain": [0.511, 1.253], "nice": false, "zero": false}, "axis": {"orient": "left", "values": [0.6, 0.8, 1, 1.2], "tickSize": -11, "labelPadding": 16, "labelExpr": "datum.value == 1 ? '1' : format(datum.value, '.1f')", "title": "1/σ dσ/dϕ*η     RᴇꜱBᴏꜱ / Data", "titleFontSize": 28, "titlePadding": 10, "titleLimit": 1000}},
        "y2": {"field": "rh"}}},
     {"transform": [{"fold": ["lo", "hi"], "as": ["k", "xv"]}], "mark": {"type": "line", "color": "#ffcc00", "strokeWidth": 2.5, "clip": true},
      "encoding": {"x": {"field": "xv", "type": "quantitative", "axis": {"orient": "bottom", "values": [0.002,0.003,0.004,0.005,0.006,0.007,0.008,0.009,0.02,0.03,0.04,0.05,0.06,0.07,0.08,0.09,0.2,0.3,0.4,0.5,0.6,0.7,0.8,0.9,2,3,4,5,6,7,8,9], "tickSize": -6, "labels": false, "title": null}},
        "y": {"field": "rh", "type": "quantitative", "axis": {"orient": "left", "values": [0.55,0.65,0.7,0.75,0.85,0.9,0.95,1.05,1.1,1.15,1.25], "tickSize": -6, "labels": false, "title": null}},
        "order": [{"field": "i", "type": "quantitative"}, {"field": "k", "type": "nominal", "sort": "descending"}]}},
     {"transform": [{"fold": ["lo", "hi"], "as": ["k", "xv"]}], "mark": {"type": "line", "color": "#ffcc00", "strokeWidth": 2.5, "clip": true},
      "encoding": {"x": {"field": "xv", "type": "quantitative", "axis": {"orient": "top", "values": [0.001, 0.01, 0.1, 1, 10], "tickSize": -11, "labels": false, "title": null}},
        "y": {"field": "rl", "type": "quantitative", "axis": {"orient": "right", "values": [0.6, 0.8, 1, 1.2], "tickSize": -11, "labels": false, "title": null}},
        "order": [{"field": "i", "type": "quantitative"}, {"field": "k", "type": "nominal", "sort": "descending"}]}},
     {"mark": {"type": "rect", "fill": "#00cc66", "clip": true},
      "encoding": {"x": {"field": "lo", "type": "quantitative", "axis": {"orient": "top", "values": [0.002,0.003,0.004,0.005,0.006,0.007,0.008,0.009,0.02,0.03,0.04,0.05,0.06,0.07,0.08,0.09,0.2,0.3,0.4,0.5,0.6,0.7,0.8,0.9,2,3,4,5,6,7,8,9], "tickSize": -6, "labels": false, "title": null}},
        "x2": {"field": "hi"},
        "y": {"field": "tl", "type": "quantitative", "axis": {"orient": "right", "values": [0.55,0.65,0.7,0.75,0.85,0.9,0.95,1.05,1.1,1.15,1.25], "tickSize": -6, "labels": false, "title": null}},
        "y2": {"field": "th"}}},
     {"mark": {"type": "rect", "fill": "#99ffcc", "clip": true},
      "encoding": {"x": {"field": "lo", "type": "quantitative", "axis": null}, "x2": {"field": "hi"}, "y": {"field": "sl", "type": "quantitative", "axis": null}, "y2": {"field": "sh"}}},
     {"data": {"values": [{"v": 1}]}, "mark": {"type": "rule", "color": "#888888", "strokeDash": [2, 3], "strokeWidth": 1.2},
      "encoding": {"y": {"field": "v", "type": "quantitative", "axis": null}}},
     {"transform": [{"fold": ["lo", "hi"], "as": ["k", "xv"]}], "mark": {"type": "line", "color": "#ff0000", "strokeWidth": 2.5, "clip": true},
      "encoding": {"x": {"field": "xv", "type": "quantitative", "axis": null}, "y": {"field": "r", "type": "quantitative", "axis": null},
        "order": [{"field": "i", "type": "quantitative"}, {"field": "k", "type": "nominal", "sort": "descending"}]}},
     {"data": {"name": "labels"}, "transform": [{"filter": "datum.p == 'p3'"}],
      "mark": {"type": "text", "align": "left", "baseline": "alphabetic", "font": "Liberation Sans", "fontSize": 20, "color": "black"},
      "encoding": {"x": {"datum": 0.00185, "type": "quantitative", "axis": null}, "y": {"datum": 0.585, "type": "quantitative", "axis": null}, "text": {"field": "t"}}}
    ]
   },
   {
    "width": 406, "height": 173, "data": {"name": "p4"},
    "resolve": {"axis": {"x": "independent", "y": "independent"}},
    "layer": [
     {"mark": {"type": "rect", "fill": "#ffff99", "clip": true},
      "encoding": {"x": {"field": "lo", "type": "quantitative", "scale": {"type": "log", "domain": [0.001, 10], "nice": false}, "axis": {"orient": "bottom", "values": [0.001, 0.01, 0.1, 1, 10], "tickSize": -11, "labels": false, "title": null}},
        "x2": {"field": "hi"},
        "y": {"field": "rl", "type": "quantitative", "scale": {"domain": [0.511, 1.253], "nice": false, "zero": false}, "axis": {"orient": "left", "values": [0.6, 0.8, 1, 1.2], "tickSize": -11, "labels": false, "title": null}},
        "y2": {"field": "rh"}}},
     {"transform": [{"fold": ["lo", "hi"], "as": ["k", "xv"]}], "mark": {"type": "line", "color": "#ffcc00", "strokeWidth": 2.5, "clip": true},
      "encoding": {"x": {"field": "xv", "type": "quantitative", "axis": {"orient": "bottom", "values": [0.002,0.003,0.004,0.005,0.006,0.007,0.008,0.009,0.02,0.03,0.04,0.05,0.06,0.07,0.08,0.09,0.2,0.3,0.4,0.5,0.6,0.7,0.8,0.9,2,3,4,5,6,7,8,9], "tickSize": -6, "labels": false, "title": null}},
        "y": {"field": "rh", "type": "quantitative", "axis": {"orient": "left", "values": [0.55,0.65,0.7,0.75,0.85,0.9,0.95,1.05,1.1,1.15,1.25], "tickSize": -6, "labels": false, "title": null}},
        "order": [{"field": "i", "type": "quantitative"}, {"field": "k", "type": "nominal", "sort": "descending"}]}},
     {"transform": [{"fold": ["lo", "hi"], "as": ["k", "xv"]}], "mark": {"type": "line", "color": "#ffcc00", "strokeWidth": 2.5, "clip": true},
      "encoding": {"x": {"field": "xv", "type": "quantitative", "axis": {"orient": "top", "values": [0.001, 0.01, 0.1, 1, 10], "tickSize": -11, "labels": false, "title": null}},
        "y": {"field": "rl", "type": "quantitative", "axis": {"orient": "right", "values": [0.6, 0.8, 1, 1.2], "tickSize": -11, "labels": false, "title": null}},
        "order": [{"field": "i", "type": "quantitative"}, {"field": "k", "type": "nominal", "sort": "descending"}]}},
     {"mark": {"type": "rect", "fill": "#00cc66", "clip": true},
      "encoding": {"x": {"field": "lo", "type": "quantitative", "axis": {"orient": "top", "values": [0.002,0.003,0.004,0.005,0.006,0.007,0.008,0.009,0.02,0.03,0.04,0.05,0.06,0.07,0.08,0.09,0.2,0.3,0.4,0.5,0.6,0.7,0.8,0.9,2,3,4,5,6,7,8,9], "tickSize": -6, "labels": false, "title": null}},
        "x2": {"field": "hi"},
        "y": {"field": "tl", "type": "quantitative", "axis": {"orient": "right", "values": [0.55,0.65,0.7,0.75,0.85,0.9,0.95,1.05,1.1,1.15,1.25], "tickSize": -6, "labels": false, "title": null}},
        "y2": {"field": "th"}}},
     {"mark": {"type": "rect", "fill": "#99ffcc", "clip": true},
      "encoding": {"x": {"field": "lo", "type": "quantitative", "axis": null}, "x2": {"field": "hi"}, "y": {"field": "sl", "type": "quantitative", "axis": null}, "y2": {"field": "sh"}}},
     {"data": {"values": [{"v": 1}]}, "mark": {"type": "rule", "color": "#888888", "strokeDash": [2, 3], "strokeWidth": 1.2},
      "encoding": {"y": {"field": "v", "type": "quantitative", "axis": null}}},
     {"transform": [{"fold": ["lo", "hi"], "as": ["k", "xv"]}], "mark": {"type": "line", "color": "#ff0000", "strokeWidth": 2.5, "clip": true},
      "encoding": {"x": {"field": "xv", "type": "quantitative", "axis": null}, "y": {"field": "r", "type": "quantitative", "axis": null},
        "order": [{"field": "i", "type": "quantitative"}, {"field": "k", "type": "nominal", "sort": "descending"}]}},
     {"data": {"name": "labels"}, "transform": [{"filter": "datum.p == 'p4'"}],
      "mark": {"type": "text", "align": "left", "baseline": "alphabetic", "font": "Liberation Sans", "fontSize": 20, "color": "black"},
      "encoding": {"x": {"datum": 0.0018, "type": "quantitative", "axis": null}, "y": {"datum": 0.58, "type": "quantitative", "axis": null}, "text": {"field": "t"}}}
    ]
   },
   {
    "width": 403, "height": 177, "data": {"name": "p5"},
    "resolve": {"axis": {"x": "independent", "y": "independent"}},
    "layer": [
     {"mark": {"type": "rect", "fill": "#ffff99", "clip": true},
      "encoding": {"x": {"field": "lo", "type": "quantitative", "scale": {"type": "log", "domain": [0.001, 10], "nice": false}, "axis": {"orient": "bottom", "values": [0.001, 0.01, 0.1, 1, 10], "tickSize": -11, "labelPadding": 19, "labelExpr": "datum.value == 0.001 ? '10⁻³' : datum.value == 0.01 ? '10⁻²' : datum.value == 0.1 ? '10⁻¹' : datum.value == 1 ? '1' : ''", "title": "ϕ*", "titleFontSize": 25, "titleAlign": "left", "titleBaseline": "alphabetic", "titleX": 342, "titleY": 54}},
        "x2": {"field": "hi"},
        "y": {"field": "rl", "type": "quantitative", "scale": {"domain": [0.5, 1.26], "nice": false, "zero": false}, "axis": {"orient": "left", "values": [0.6, 0.8, 1, 1.2], "tickSize": -11, "labelPadding": 16, "labelExpr": "datum.value == 1 ? '1' : format(datum.value, '.1f')", "title": null}},
        "y2": {"field": "rh"}}},
     {"transform": [{"fold": ["lo", "hi"], "as": ["k", "xv"]}], "mark": {"type": "line", "color": "#ffcc00", "strokeWidth": 2.5, "clip": true},
      "encoding": {"x": {"field": "xv", "type": "quantitative", "axis": {"orient": "bottom", "values": [0.002,0.003,0.004,0.005,0.006,0.007,0.008,0.009,0.02,0.03,0.04,0.05,0.06,0.07,0.08,0.09,0.2,0.3,0.4,0.5,0.6,0.7,0.8,0.9,2,3,4,5,6,7,8,9], "tickSize": -6, "labels": false, "title": "η", "titleFontSize": 15, "titleAlign": "left", "titleBaseline": "alphabetic", "titleX": 368, "titleY": 72}},
        "y": {"field": "rh", "type": "quantitative", "axis": {"orient": "left", "values": [0.55,0.65,0.7,0.75,0.85,0.9,0.95,1.05,1.1,1.15,1.25], "tickSize": -6, "labels": false, "title": null}},
        "order": [{"field": "i", "type": "quantitative"}, {"field": "k", "type": "nominal", "sort": "descending"}]}},
     {"transform": [{"fold": ["lo", "hi"], "as": ["k", "xv"]}], "mark": {"type": "line", "color": "#ffcc00", "strokeWidth": 2.5, "clip": true},
      "encoding": {"x": {"field": "xv", "type": "quantitative", "axis": {"orient": "top", "values": [0.001, 0.01, 0.1, 1, 10], "tickSize": -11, "labels": false, "title": null}},
        "y": {"field": "rl", "type": "quantitative", "axis": {"orient": "right", "values": [0.6, 0.8, 1, 1.2], "tickSize": -11, "labels": false, "title": null}},
        "order": [{"field": "i", "type": "quantitative"}, {"field": "k", "type": "nominal", "sort": "descending"}]}},
     {"mark": {"type": "rect", "fill": "#00cc66", "clip": true},
      "encoding": {"x": {"field": "lo", "type": "quantitative", "axis": {"orient": "top", "values": [0.002,0.003,0.004,0.005,0.006,0.007,0.008,0.009,0.02,0.03,0.04,0.05,0.06,0.07,0.08,0.09,0.2,0.3,0.4,0.5,0.6,0.7,0.8,0.9,2,3,4,5,6,7,8,9], "tickSize": -6, "labels": false, "title": null}},
        "x2": {"field": "hi"},
        "y": {"field": "tl", "type": "quantitative", "axis": {"orient": "right", "values": [0.55,0.65,0.7,0.75,0.85,0.9,0.95,1.05,1.1,1.15,1.25], "tickSize": -6, "labels": false, "title": null}},
        "y2": {"field": "th"}}},
     {"mark": {"type": "rect", "fill": "#99ffcc", "clip": true},
      "encoding": {"x": {"field": "lo", "type": "quantitative", "axis": null}, "x2": {"field": "hi"}, "y": {"field": "sl", "type": "quantitative", "axis": null}, "y2": {"field": "sh"}}},
     {"data": {"values": [{"v": 1}]}, "mark": {"type": "rule", "color": "#888888", "strokeDash": [2, 3], "strokeWidth": 1.2},
      "encoding": {"y": {"field": "v", "type": "quantitative", "axis": null}}},
     {"transform": [{"fold": ["lo", "hi"], "as": ["k", "xv"]}], "mark": {"type": "line", "color": "#ff0000", "strokeWidth": 2.5, "clip": true},
      "encoding": {"x": {"field": "xv", "type": "quantitative", "axis": null}, "y": {"field": "r", "type": "quantitative", "axis": null},
        "order": [{"field": "i", "type": "quantitative"}, {"field": "k", "type": "nominal", "sort": "descending"}]}},
     {"data": {"name": "labels"}, "transform": [{"filter": "datum.p == 'p5'"}],
      "mark": {"type": "text", "align": "left", "baseline": "alphabetic", "font": "Liberation Sans", "fontSize": 20, "color": "black"},
      "encoding": {"x": {"datum": 0.00185, "type": "quantitative", "axis": null}, "y": {"datum": 0.565, "type": "quantitative", "axis": null}, "text": {"field": "t"}}}
    ]
   },
   {
    "width": 406, "height": 177, "data": {"name": "p6"},
    "resolve": {"axis": {"x": "independent", "y": "independent"}},
    "layer": [
     {"mark": {"type": "rect", "fill": "#ffff99", "clip": true},
      "encoding": {"x": {"field": "lo", "type": "quantitative", "scale": {"type": "log", "domain": [0.001, 10], "nice": false}, "axis": {"orient": "bottom", "values": [0.001, 0.01, 0.1, 1, 10], "tickSize": -11, "labelPadding": 19, "labelExpr": "datum.value == 0.01 ? '10⁻²' : datum.value == 0.1 ? '10⁻¹' : datum.value == 1 ? '1' : datum.value == 10 ? '10' : ''", "title": "ϕ*", "titleFontSize": 25, "titleAlign": "left", "titleBaseline": "alphabetic", "titleX": 353, "titleY": 54}},
        "x2": {"field": "hi"},
        "y": {"field": "rl", "type": "quantitative", "scale": {"domain": [0.5, 1.26], "nice": false, "zero": false}, "axis": {"orient": "left", "values": [0.6, 0.8, 1, 1.2], "tickSize": -11, "labels": false, "title": null}},
        "y2": {"field": "rh"}}},
     {"transform": [{"fold": ["lo", "hi"], "as": ["k", "xv"]}], "mark": {"type": "line", "color": "#ffcc00", "strokeWidth": 2.5, "clip": true},
      "encoding": {"x": {"field": "xv", "type": "quantitative", "axis": {"orient": "bottom", "values": [0.002,0.003,0.004,0.005,0.006,0.007,0.008,0.009,0.02,0.03,0.04,0.05,0.06,0.07,0.08,0.09,0.2,0.3,0.4,0.5,0.6,0.7,0.8,0.9,2,3,4,5,6,7,8,9], "tickSize": -6, "labels": false, "title": "η", "titleFontSize": 15, "titleAlign": "left", "titleBaseline": "alphabetic", "titleX": 375, "titleY": 72}},
        "y": {"field": "rh", "type": "quantitative", "axis": {"orient": "left", "values": [0.55,0.65,0.7,0.75,0.85,0.9,0.95,1.05,1.1,1.15,1.25], "tickSize": -6, "labels": false, "title": null}},
        "order": [{"field": "i", "type": "quantitative"}, {"field": "k", "type": "nominal", "sort": "descending"}]}},
     {"transform": [{"fold": ["lo", "hi"], "as": ["k", "xv"]}], "mark": {"type": "line", "color": "#ffcc00", "strokeWidth": 2.5, "clip": true},
      "encoding": {"x": {"field": "xv", "type": "quantitative", "axis": {"orient": "top", "values": [0.001, 0.01, 0.1, 1, 10], "tickSize": -11, "labels": false, "title": null}},
        "y": {"field": "rl", "type": "quantitative", "axis": {"orient": "right", "values": [0.6, 0.8, 1, 1.2], "tickSize": -11, "labels": false, "title": null}},
        "order": [{"field": "i", "type": "quantitative"}, {"field": "k", "type": "nominal", "sort": "descending"}]}},
     {"mark": {"type": "rect", "fill": "#00cc66", "clip": true},
      "encoding": {"x": {"field": "lo", "type": "quantitative", "axis": {"orient": "top", "values": [0.002,0.003,0.004,0.005,0.006,0.007,0.008,0.009,0.02,0.03,0.04,0.05,0.06,0.07,0.08,0.09,0.2,0.3,0.4,0.5,0.6,0.7,0.8,0.9,2,3,4,5,6,7,8,9], "tickSize": -6, "labels": false, "title": null}},
        "x2": {"field": "hi"},
        "y": {"field": "tl", "type": "quantitative", "axis": {"orient": "right", "values": [0.55,0.65,0.7,0.75,0.85,0.9,0.95,1.05,1.1,1.15,1.25], "tickSize": -6, "labels": false, "title": null}},
        "y2": {"field": "th"}}},
     {"mark": {"type": "rect", "fill": "#99ffcc", "clip": true},
      "encoding": {"x": {"field": "lo", "type": "quantitative", "axis": null}, "x2": {"field": "hi"}, "y": {"field": "sl", "type": "quantitative", "axis": null}, "y2": {"field": "sh"}}},
     {"data": {"values": [{"v": 1}]}, "mark": {"type": "rule", "color": "#888888", "strokeDash": [2, 3], "strokeWidth": 1.2},
      "encoding": {"y": {"field": "v", "type": "quantitative", "axis": null}}},
     {"transform": [{"fold": ["lo", "hi"], "as": ["k", "xv"]}], "mark": {"type": "line", "color": "#ff0000", "strokeWidth": 2.5, "clip": true},
      "encoding": {"x": {"field": "xv", "type": "quantitative", "axis": null}, "y": {"field": "r", "type": "quantitative", "axis": null},
        "order": [{"field": "i", "type": "quantitative"}, {"field": "k", "type": "nominal", "sort": "descending"}]}},
     {"data": {"name": "labels"}, "transform": [{"filter": "datum.p == 'p6'"}],
      "mark": {"type": "text", "align": "left", "baseline": "alphabetic", "font": "Liberation Sans", "fontSize": 20, "color": "black"},
      "encoding": {"x": {"datum": 0.0018, "type": "quantitative", "axis": null}, "y": {"datum": 0.565, "type": "quantitative", "axis": null}, "text": {"field": "t"}}}
    ]
   }
  ]
 }
],
"spacing": 0,
"bounds": "flush",
"resolve": {"scale": {"fill": "independent"}, "legend": {"fill": "independent"}}
}
